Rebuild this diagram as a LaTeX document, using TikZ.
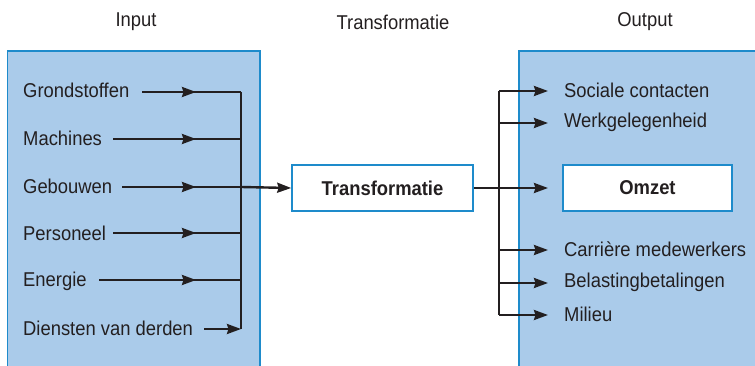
\documentclass[tikz,border=0pt]{standalone}
\usepackage{fontspec}
\setmainfont{Liberation Sans}[FakeStretch=0.92]
\usetikzlibrary{arrows.meta}
\definecolor{boxfill}{HTML}{AACBEA}
\definecolor{boxline}{HTML}{1E8BCB}
\definecolor{ink}{HTML}{231F20}
\tikzset{
  lbl/.style={font=\fontsize{20}{22}\selectfont, text=ink, anchor=west, inner sep=0pt},
  ttl/.style={font=\fontsize{20}{22}\selectfont, text=ink, inner sep=0pt},
  panel/.style={draw=boxline, line width=1.8pt, fill=boxfill},
  whitebox/.style={draw=boxline, line width=1.6pt, fill=white, minimum height=46pt, font=\bfseries\fontsize{20}{22}\selectfont, text=ink},
  wire/.style={draw=ink, line width=2.4pt},
  bus/.style={draw=ink, line width=1.8pt},
  arr/.style={draw=ink, line width=2.4pt, -{Stealth[length=14pt,width=10pt,inset=1.5pt]}},
}
\begin{document}
\begin{tikzpicture}[x=1pt,y=-1pt]
\useasboundingbox (0,0) rectangle (755,366);
% panels
\path[panel] (7.5,51) rectangle (260,372);
\path[panel] (519,51) rectangle (760,372);
% titles
\node[ttl] (tin) at (136,22) {Input};
\node[ttl] (ttr) at (393,22) {Transformatie};
\node[ttl] (tout) at (645,22) {Output};
% central boxes
\node[whitebox, minimum width=181pt] (tr) at (382.5,188) {Transformatie};
\node[whitebox, minimum width=169pt] (om) at (647.5,188) {Omzet};
% input labels
\node[lbl] (i1) at (23,90) {Grondstoffen};
\node[lbl] (i2) at (23,138) {Machines};
\node[lbl] (i3) at (23,186) {Gebouwen};
\node[lbl] (i4) at (23,233) {Personeel};
\node[lbl] (i5) at (23,281) {Energie};
\node[lbl] (i6) at (23,328) {Diensten van derden};
% output labels
\node[lbl] (o1) at (564,90) {Sociale contacten};
\node[lbl] (o2) at (564,122) {Werkgelegenheid};
\node[lbl] (o4) at (564,249) {Carrière medewerkers};
\node[lbl] (o5) at (564,282) {Belastingbetalingen};
\node[lbl] (o6) at (564,314) {Milieu};
% input wires
\coordinate (s1) at (142,92);  \coordinate (m1) at (196,92);  \coordinate (b1) at (241,92);
\coordinate (s2) at (113,139); \coordinate (m2) at (196,139); \coordinate (b2) at (241,139);
\coordinate (s3) at (122,187); \coordinate (m3) at (196,187); \coordinate (b3) at (241,187);
\coordinate (s4) at (113,233); \coordinate (m4) at (196,233); \coordinate (b4) at (241,233);
\coordinate (s5) at (99,280);  \coordinate (m5) at (196,280);  \coordinate (b5) at (241,280);
\coordinate (s6) at (204,329); \coordinate (b6) at (241,329);
\foreach \i in {1,...,5}{
  \draw[wire] (s\i) -- (b\i);
  \draw[arr] (s\i) -- (m\i);
}
\draw[arr] (s6) -- (b6);
\draw[bus] (b1) -- (b6);
\draw[arr] (b3) -- (tr.west);
% output wires
\coordinate (r1) at (499,91);  \coordinate (e1) at (548,91);
\coordinate (r2) at (499,123); \coordinate (e2) at (548,123);
\coordinate (r3) at (499,188); \coordinate (e3) at (548,188);
\coordinate (r4) at (499,250); \coordinate (e4) at (548,250);
\coordinate (r5) at (499,283); \coordinate (e5) at (548,283);
\coordinate (r6) at (499,315); \coordinate (e6) at (548,315);
\draw[bus] (r1) -- (r6);
\draw[wire] (tr.east) -- (r3);
\foreach \i in {1,...,6}{
  \draw[arr] (r\i) -- (e\i);
}
\end{tikzpicture}
\end{document}
